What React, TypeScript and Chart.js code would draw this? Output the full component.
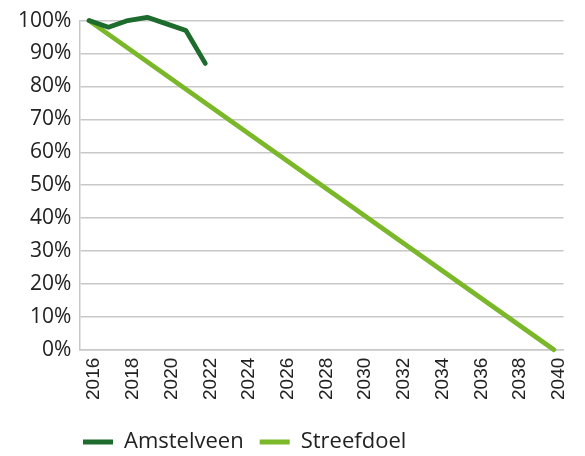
import React, { useEffect, useRef } from "react";
import { Chart, registerables } from "chart.js";

Chart.register(...registerables);

const years: string[] = [
  "2016", "2017", "2018", "2019", "2020", "2021", "2022", "2023", "2024",
  "2025", "2026", "2027", "2028", "2029", "2030", "2031", "2032", "2033",
  "2034", "2035", "2036", "2037", "2038", "2039", "2040",
];

const amstelveen: (number | null)[] = [
  100, 98, 100, 101, 99, 97, 87, null, null, null, null, null, null,
  null, null, null, null, null, null, null, null, null, null, null, null,
];

const streefdoel: (number | null)[] = [
  100, null, null, null, null, null, null, null, null, null, null, null, null,
  null, null, null, null, null, null, null, null, null, null, null, 0,
];

const yTicks: number[] = [0, 10, 20, 30, 40, 50, 60, 70, 80, 90, 100];

const legendShift = {
  id: "legendShift",
  afterLayout(chart: any) {
    const lg = chart.legend;
    if (!lg) return;
    lg.left = 67;
    lg.top = 415;
  },
};

export default function App() {
  const ref = useRef<HTMLCanvasElement | null>(null);

  useEffect(() => {
    if (!ref.current) return;
    const chart = new Chart(ref.current, {
      type: "line",
      data: {
        labels: years,
        datasets: [
          {
            label: "Amstelveen",
            data: amstelveen,
            borderColor: "#1d6b2d",
            backgroundColor: "#1d6b2d",
            borderWidth: 4.8,
            pointRadius: 0,
            pointStyle: "line",
            borderCapStyle: "round",
            borderJoinStyle: "round",
            tension: 0,
            clip: false,
          },
          {
            label: "Streefdoel",
            data: streefdoel,
            borderColor: "#7ab82a",
            backgroundColor: "#7ab82a",
            borderWidth: 4.8,
            pointRadius: 0,
            pointStyle: "line",
            borderCapStyle: "round",
            borderJoinStyle: "round",
            spanGaps: true,
            tension: 0,
            clip: false,
          },
        ],
      },
      plugins: [legendShift],
      options: {
        animation: false,
        responsive: false,
        maintainAspectRatio: false,
        layout: { padding: { top: 8, right: 15, left: 10, bottom: 0 } },
        plugins: {
          tooltip: { enabled: false },
          legend: {
            position: "bottom",
            align: "start",
            fullSize: false,
            labels: {
              usePointStyle: true,
              pointStyle: "line",
              pointStyleWidth: 30,
              boxHeight: 22,
              padding: 16,
              color: "#222",
              font: { family: "'Open Sans'", size: 22 },
            },
          },
        },
        scales: {
          x: {
            type: "category",
            offset: true,
            grid: { display: false, drawTicks: false },
            border: { display: true, color: "#c8c8c8", width: 1.5 },
            ticks: {
              autoSkip: false,
              maxRotation: 90,
              minRotation: 90,
              padding: 8,
              labelOffset: 5,
              color: "#222",
              font: { family: "'Liberation Sans'", size: 19 },
              callback: (_v: any, i: number) => (i % 2 === 0 ? years[i] : ""),
            },
          },
          y: {
            min: 0,
            max: 100,
            afterBuildTicks: (axis: any) => {
              axis.ticks = yTicks.map((v) => ({ value: v }));
            },
            grid: { color: "#c8c8c8", lineWidth: 1.5, drawTicks: false },
            border: { display: true, color: "#c8c8c8", width: 1.5 },
            ticks: {
              padding: 8,
              color: "#222",
              font: { family: "'Open Sans'", size: 21 },
              callback: (v: any) => v + "%",
            },
          },
        },
      },
    });
    return () => chart.destroy();
  }, []);

  return (
    <div style={{ position: "fixed", left: 0, top: 0, width: 585, height: 456 }}>
      <canvas ref={ref} width={585} height={456} />
    </div>
  );
}
